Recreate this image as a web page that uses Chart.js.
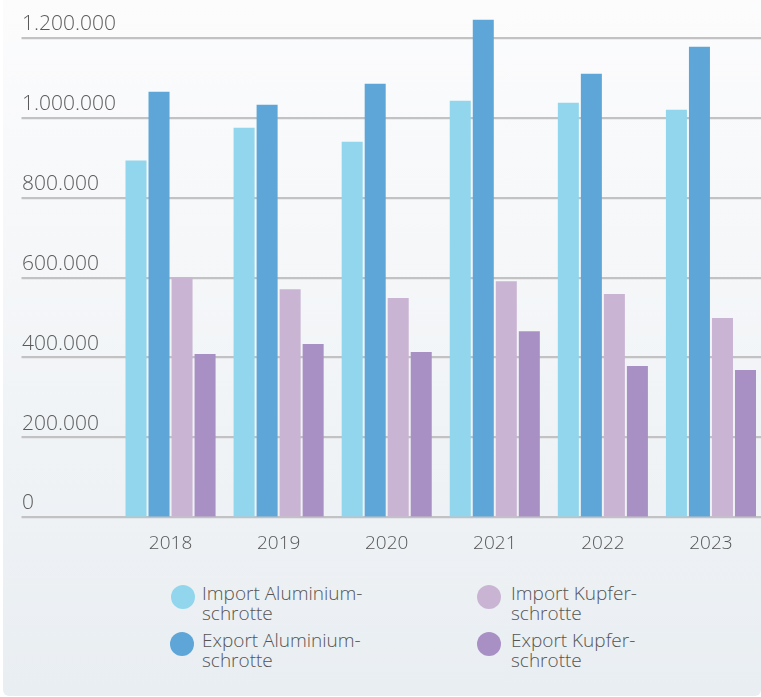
<!DOCTYPE html>
<html>
<head>
<meta charset="utf-8">
<script src="https://cdn.jsdelivr.net/npm/chart.js@4"></script>
<style>
  html, body { margin: 0; padding: 0; background: #fff; overflow: hidden; }
  #panel {
    position: absolute; left: 3px; top: 0; width: 758px; height: 696px;
    border-radius: 0 0 6px 6px;
    background: linear-gradient(#fcfcfd, #e9eef2);
    overflow: hidden;
  }
  #wrap { position: absolute; left: -3px; top: 0; width: 765px; height: 560px; }
  #legend {
    position: absolute; left: -3px; top: 583px; width: 761px;
    font-family: "Open Sans", sans-serif; font-weight: 300; font-size: 19px;
    line-height: 20px; color: #555;
  }
  .item { position: absolute; }
  .item .dot { position: absolute; top: 2px; width: 24px; height: 24px; border-radius: 50%; }
</style>
</head>
<body>
<div id="panel">
  <div id="wrap"><canvas id="chart"></canvas></div>
  <div id="legend"></div>
</div>
<script>
// === DATA ===
const years = ["2018", "2019", "2020", "2021", "2022", "2023"];
const importAlu = [893000, 975000, 940000, 1042500, 1037500, 1020000];
const exportAlu = [1065000, 1032500, 1085000, 1245000, 1110000, 1177500];
const importKupfer = [601000, 571000, 549000, 591000, 559000, 499000];
const exportKupfer = [409000, 434000, 414000, 466000, 379000, 369000];
const yTicks = [0, 200000, 400000, 600000, 800000, 1000000, 1200000];

const seriesNames = [
  ["Import Aluminium-", "schrotte"],
  ["Export Aluminium-", "schrotte"],
  ["Import Kupfer-", "schrotte"],
  ["Export Kupfer-", "schrotte"]
];
const colors = ["#91d6ec", "#5ea6d8", "#c9b5d3", "#a990c4"];

const font = "'Open Sans', sans-serif";
const gridColor = "#c2c2c4";

const ds = [importAlu, exportAlu, importKupfer, exportKupfer].map((d, i) => ({
  label: seriesNames[i].join(" "),
  data: d,
  backgroundColor: colors[i],
  borderWidth: 0,
  categoryPercentage: 0.852,
  barPercentage: 0.913,
  clip: false
}));

const canvas = document.getElementById("chart");
canvas.width = 765;
canvas.height = 560;

const chart = new Chart(canvas.getContext("2d"), {
  type: "bar",
  data: { labels: years, datasets: ds },
  options: {
    responsive: false,
    animation: false,
    layout: { padding: { left: 22, top: 37.7, right: 0, bottom: 0 } },
    plugins: {
      legend: { display: false },
      tooltip: { enabled: false }
    },
    scales: {
      x: {
        grid: { display: false },
        border: { display: false },
        ticks: { color: "#555", font: { family: font, size: 19, weight: 300 }, padding: 7 },
        afterFit: (s) => { s.height = 42.5; }
      },
      y: {
        min: 0,
        max: 1200000,
        border: { display: false },
        grid: {
          color: gridColor,
          lineWidth: 2.2,
          drawTicks: true,
          tickLength: 95,
          tickColor: gridColor
        },
        ticks: {
          color: "#5a5a5a",
          font: { family: font, size: 21, weight: 300 },
          crossAlign: "far",
          labelOffset: -14,
          callback: (v) => v.toLocaleString("de-DE")
        },
        afterBuildTicks: (s) => { s.ticks = yTicks.map(v => ({ value: v })); },
        afterFit: (s) => { s.width = 94.5; }
      }
    }
  }
});

// legend in HTML, two columns (text x, top, dot offset)
const legend = document.getElementById("legend");
const pos = [[202, 0, -31], [202, 47, -32], [511, 0, -34], [511, 47, -34]];
chart.data.datasets.forEach((d, i) => {
  const el = document.createElement("div");
  el.className = "item";
  el.style.left = pos[i][0] + "px";
  el.style.top = pos[i][1] + "px";
  el.innerHTML = `<span class="dot" style="left:${pos[i][2]}px;background:${d.backgroundColor}"></span>${seriesNames[i][0]}<br>${seriesNames[i][1]}`;
  legend.appendChild(el);
});
</script>
</body>
</html>
